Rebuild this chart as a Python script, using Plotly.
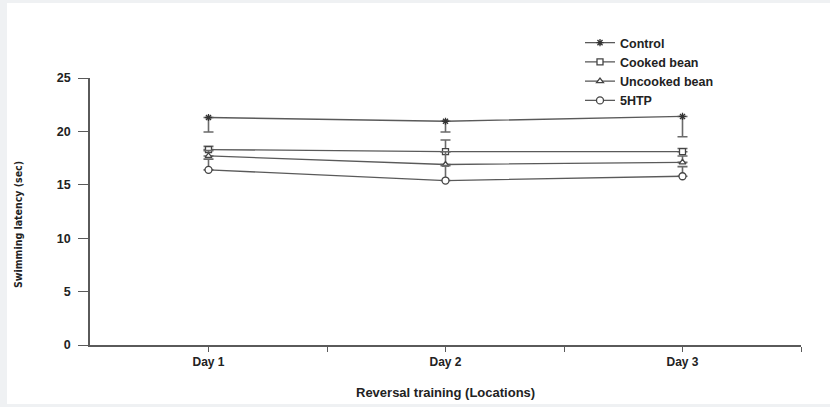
import plotly.graph_objects as go

days = ["Day 1", "Day 2", "Day 3"]
day_pos = [0.5, 1.5, 2.5]

control = [21.3, 20.95, 21.4]
control_err_minus = [1.35, 1.0, 1.9]

cooked = [18.3, 18.1, 18.1]
cooked_err_plus = [0.3, 1.1, 0.3]

uncooked = [17.7, 16.9, 17.1]
uncooked_err_plus = [0.5, 1.2, 0.6]

htp = [16.4, 15.4, 15.8]
htp_err_plus = [1.0, 1.4, 0.9]

y_ticks = [0, 5, 10, 15, 20, 25]

LINE = "#5a5a5a"
ERR = "#6a6a6a"
FONT = "Liberation Sans, Arial, sans-serif"

fig = go.Figure()

def add(name, y, symbol, plus, minus, msize, mcolor):
    fig.add_trace(go.Scatter(
        x=day_pos, y=y, name=name, mode="lines+markers",
        line=dict(color=LINE, width=1.3),
        marker=dict(symbol=symbol, size=msize, color=mcolor,
                    line=dict(color="#444", width=1.3)),
        error_y=dict(type="data", symmetric=False,
                     array=plus, arrayminus=minus,
                     color=ERR, thickness=1.6, width=5),
    ))

add("Control", control, "asterisk-open", [0, 0, 0], control_err_minus, 6, "#333")
add("Cooked bean", cooked, "square", cooked_err_plus, [0, 0, 0], 6, "white")
add("Uncooked bean", uncooked, "triangle-up", uncooked_err_plus, [0, 0, 0], 6, "white")
add("5HTP", htp, "circle", htp_err_plus, [0, 0, 0], 7, "white")

L, R, T, B = 90, 29, 78, 62
W, H = 830, 407
pw, ph = W - L - R, H - T - B

def px_x(p):
    return (p - L) / pw

def px_y(p):
    return (H - B - p) / ph

fig.add_shape(type="rect", xref="paper", yref="paper",
              x0=px_x(7), x1=px_x(835), y0=px_y(404), y1=px_y(3),
              fillcolor="white", line=dict(width=0), layer="below")

fig.add_annotation(text="<b>Swimming latency (sec)</b>", xref="paper", yref="paper",
                   x=px_x(18), y=px_y(225), textangle=-90, showarrow=False,
                   font=dict(family="DejaVu Sans Condensed, Liberation Sans Narrow, Arial", size=10.5, color="#222"),
                   xanchor="center", yanchor="middle")
fig.add_annotation(text="<b>Reversal training (Locations)</b>", xref="paper", yref="paper",
                   x=0.5, y=px_y(392), showarrow=False,
                   font=dict(family=FONT, size=13, color="#222"),
                   xanchor="center", yanchor="middle")

fig.update_layout(
    width=W, height=H,
    margin=dict(l=L, r=R, t=T, b=B, pad=0),
    paper_bgcolor="#eff1f3",
    plot_bgcolor="rgba(0,0,0,0)",
    font=dict(family=FONT, size=12, color="#222"),
    showlegend=True,
    legend=dict(x=px_x(580), y=px_y(28), xanchor="left", yanchor="top",
                bgcolor="rgba(0,0,0,0)", font=dict(family=FONT, size=12.5, color="#222", weight="bold"),
                tracegroupgap=0, itemwidth=30),
    xaxis=dict(range=[0, 3], tickvals=day_pos, ticktext=days,
               showgrid=False, zeroline=False, showline=True,
               linecolor=LINE, linewidth=1.6, ticks="outside", ticklen=5,
               tickcolor=LINE, tickwidth=1.3,
               tickfont=dict(family=FONT, size=12, color="#222", weight="bold"),
               minor=dict(tickvals=[1, 2, 3], ticks="outside", ticklen=5,
                          tickcolor=LINE, tickwidth=1.3)),
    yaxis=dict(range=[0, 25], tickvals=y_ticks,
               showgrid=False, zeroline=False, showline=True,
               linecolor=LINE, linewidth=1.6, ticks="outside", ticklen=10,
               tickcolor=LINE, tickwidth=1.3, ticklabelstandoff=5,
               tickfont=dict(family=FONT, size=12.5, color="#222", weight="bold")),
)

fig.write_html("out.html", config={"displayModeBar": False},
               post_script="document.body.style.margin='0';document.body.style.overflow='hidden';")
